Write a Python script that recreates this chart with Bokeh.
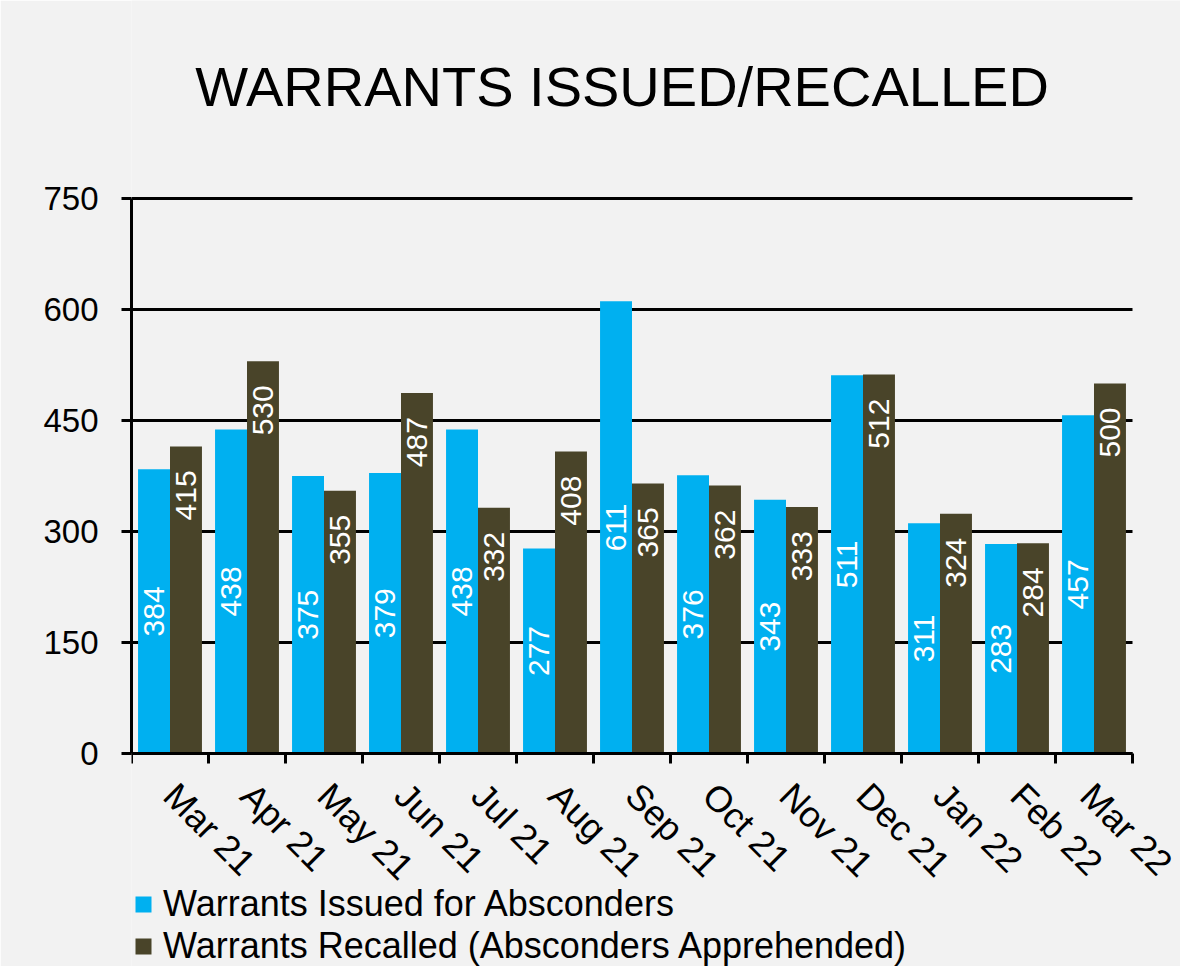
import math
import numpy as np
from bokeh.plotting import figure
from bokeh.models import FixedTicker, Legend, LegendItem, ColumnDataSource, Label
from bokeh.core.properties import value
from bokeh.embed import file_html
from bokeh.resources import INLINE

# ---- data ----
months = ["Mar 21", "Apr 21", "May 21", "Jun 21", "Jul 21", "Aug 21", "Sep 21",
          "Oct 21", "Nov 21", "Dec 21", "Jan 22", "Feb 22", "Mar 22"]
issued = [384, 438, 375, 379, 438, 277, 611, 376, 343, 511, 311, 283, 457]
recalled = [415, 530, 355, 487, 332, 408, 365, 362, 333, 512, 324, 284, 500]
y_ticks = [0, 150, 300, 450, 600, 750]
series_names = ["Warrants Issued for Absconders",
                "Warrants Recalled (Absconders Apprehended)"]
title_text = "WARRANTS ISSUED/RECALLED"

# ---- style / layout (pixels) ----
colors = ["#00b0f0", "#494429"]
FONT = "Liberation Sans"
BG = "#f2f2f2"
W, H = 1180, 966
PLOT_LEFT, PLOT_RIGHT = 131, 1132      # value axis / right end of gridlines
PLOT_TOP, PLOT_BOTTOM = 198, 753       # y of top gridline / y of zero line
bar_w = 0.415

n = len(months)
y_lo, y_hi = y_ticks[0], y_ticks[-1]
ppu_y = (PLOT_BOTTOM - PLOT_TOP) / (y_hi - y_lo)
ppu_x = (PLOT_RIGHT - PLOT_LEFT) / n
# frame spans the full canvas (right of the value axis) so that the legend,
# title and slanted month labels are not clipped
y_range = (y_lo - (H - PLOT_BOTTOM) / ppu_y, y_hi + PLOT_TOP / ppu_y)
x_range = (0, (W - PLOT_LEFT) / ppu_x)

centers = [i + 0.5 for i in range(n)]
x_issued = [c - bar_w / 2 for c in centers]
x_recalled = [c + bar_w / 2 for c in centers]

src = ColumnDataSource(dict(
    xi=x_issued, xr=x_recalled,
    issued=issued, recalled=recalled,
    half=[v / 2 for v in issued],
    li=[str(v) for v in issued], lr=[str(v) for v in recalled],
))

p = figure(width=W, height=H, output_backend="svg", toolbar_location=None,
           x_range=x_range, y_range=y_range,
           min_border_left=PLOT_LEFT, min_border_right=0,
           min_border_top=0, min_border_bottom=0,
           background_fill_color=BG, border_fill_color=BG)
p.outline_line_color = None

# horizontal gridlines, limited to the category span
p.xgrid.visible = False
grid = p.ygrid[0]
if hasattr(grid, "cross_bounds"):
    grid.ticker = FixedTicker(ticks=y_ticks)
    grid.cross_bounds = (0, n)
    grid.grid_line_color = "black"
    grid.grid_line_width = 3
else:
    grid.visible = False
    p.segment(x0=[0] * len(y_ticks), x1=[n] * len(y_ticks), y0=y_ticks, y1=y_ticks,
              line_color="black", line_width=3)

p.vbar(x="xi", top="issued", bottom=0, width=bar_w, source=src,
       fill_color=colors[0], line_color=None)
p.vbar(x="xr", top="recalled", bottom=0, width=bar_w, source=src,
       fill_color=colors[1], line_color=None)

p.text(x="xi", y="half", text="li", source=src, angle=math.pi / 2,
       text_align="center", text_baseline="middle", text_color="white",
       text_font=value(FONT), text_font_size="30px")
p.text(x="xr", y="recalled", text="lr", source=src, angle=math.pi / 2,
       text_align="right", text_baseline="middle", text_color="white",
       text_font=value(FONT), text_font_size="30px", y_offset=24)

# title
p.add_layout(Label(x=621.5 - PLOT_LEFT, y=H - 108 + 22, x_units="screen", y_units="screen",
                   text=title_text, text_align="center", text_baseline="alphabetic",
                   text_font=FONT, text_font_size="56px", text_color="black"))

# x axis (at y = 0)
xa = p.xaxis[0]
xa.fixed_location = 0
xa.bounds = (0, n)
xa.ticker = FixedTicker(ticks=centers, minor_ticks=list(range(n + 1)))
xa.major_label_overrides = {c: m for c, m in zip(centers, months)}
xa.major_label_orientation = -math.pi / 4
xa.major_tick_line_color = None
xa.major_tick_out = 10
xa.major_tick_in = 0
xa.minor_tick_line_color = "black"
xa.minor_tick_line_width = 3
xa.minor_tick_out = 10
xa.minor_tick_in = 0
xa.axis_line_color = "black"
xa.axis_line_width = 3
xa.major_label_text_font = FONT
xa.major_label_text_font_size = "36px"
xa.major_label_text_color = "black"
xa.major_label_standoff = 26

# y axis
ya = p.yaxis[0]
ya.ticker = FixedTicker(ticks=y_ticks)
ya.bounds = (y_lo, y_hi)
ya.major_tick_line_color = "black"
ya.major_tick_line_width = 3
ya.major_tick_out = 10
ya.major_tick_in = 0
ya.minor_tick_line_color = None
ya.axis_line_color = "black"
ya.axis_line_width = 3
ya.major_label_text_font = FONT
ya.major_label_text_font_size = "33px"
ya.major_label_text_color = "black"
ya.major_label_standoff = 23

# legend (square swatches; proxies hold no visible data)
nan = np.array([np.nan])
lr1 = p.scatter(x=nan, y=nan, marker="square", fill_color=colors[0], line_color=None)
lr2 = p.scatter(x=nan, y=nan, marker="square", fill_color=colors[1], line_color=None)
legend = Legend(items=[LegendItem(label=series_names[0], renderers=[lr1]),
                       LegendItem(label=series_names[1], renderers=[lr2])],
                location=(-8, -1), orientation="vertical",
                glyph_width=40, glyph_height=40, label_standoff=-5,
                padding=0, margin=0, spacing=0,
                label_text_font=FONT, label_text_font_size="36px",
                label_text_color="black",
                border_line_color=None, background_fill_alpha=0)
p.add_layout(legend, "center")

open("out.html", "w").write(file_html(p, INLINE))
